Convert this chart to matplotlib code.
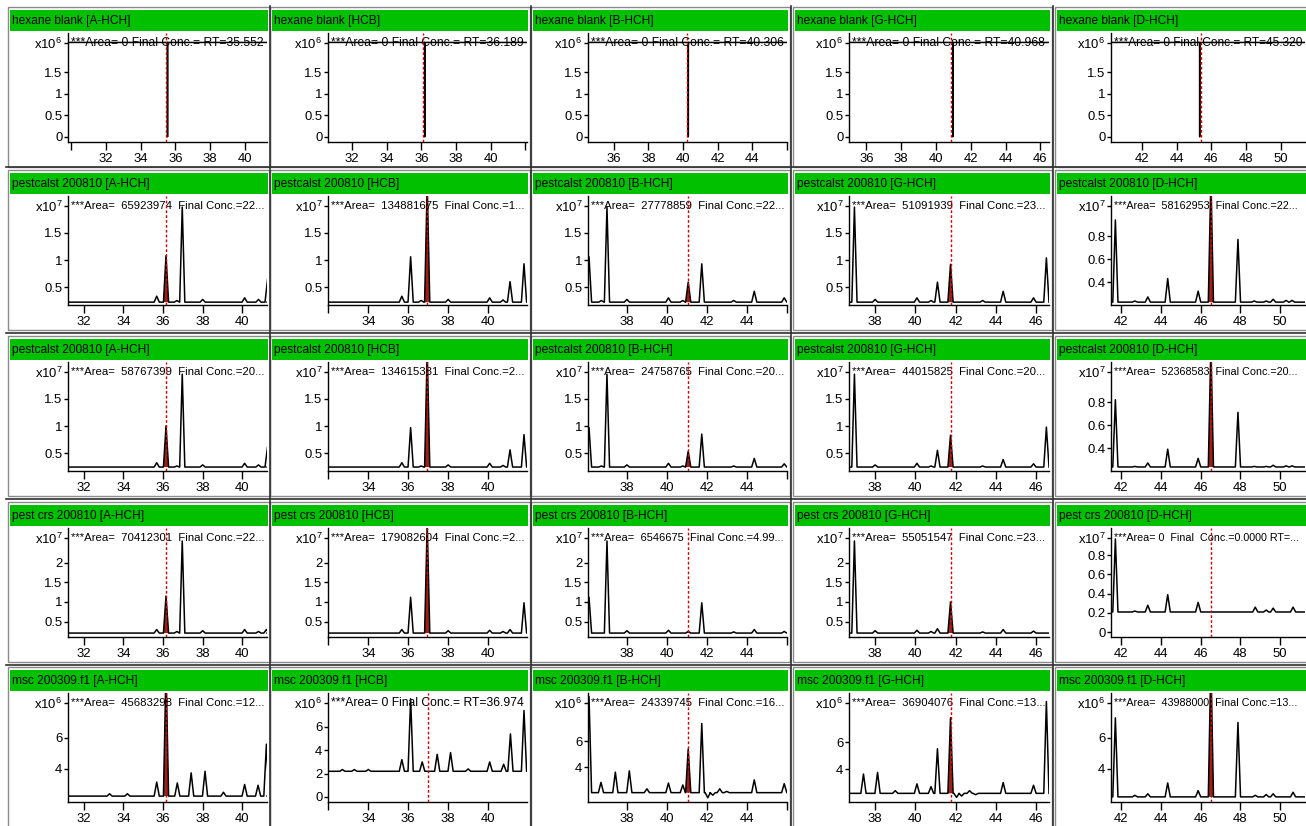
import matplotlib
matplotlib.use('Agg')
import matplotlib.pyplot as plt
from matplotlib import font_manager as fm
from matplotlib.patches import Rectangle
from matplotlib.lines import Line2D

W, H = 1306, 826

# ---------------- data ----------------
compounds = ['A-HCH', 'HCB', 'B-HCH', 'G-HCH', 'D-HCH']
samples = ['hexane blank', 'pestcalst 200810', 'pestcalst 200810',
           'pest crs 200810', 'msc 200309.f1']
exponents = [6, 7, 7, 7, 6]

info_texts = [
    ["***Area= 0 Final Conc.= RT=35.552", "***Area= 0 Final Conc.= RT=36.189",
     "***Area= 0 Final Conc.= RT=40.306", "***Area= 0 Final Conc.= RT=40.968",
     "***Area= 0 Final Conc.= RT=45.320"],
    ["***Area=  65923974  Final Conc.=22...", "***Area=  134881675  Final Conc.=1...",
     "***Area=  27778859  Final Conc.=22...", "***Area=  51091939  Final Conc.=23...",
     "***Area=  58162953  Final Conc.=22..."],
    ["***Area=  58767399  Final Conc.=20...", "***Area=  134615331  Final Conc.=2...",
     "***Area=  24758765  Final Conc.=20...", "***Area=  44015825  Final Conc.=20...",
     "***Area=  52368583  Final Conc.=20..."],
    ["***Area=  70412301  Final Conc.=22...", "***Area=  179082604  Final Conc.=2...",
     "***Area=  6546675  Final Conc.=4.99...", "***Area=  55051547  Final Conc.=23...",
     "***Area= 0  Final  Conc.=0.0000 RT=..."],
    ["***Area=  45683298  Final Conc.=12...", "***Area= 0 Final Conc.= RT=36.974",
     "***Area=  24339745  Final Conc.=16...", "***Area=  36904076  Final Conc.=13...",
     "***Area=  43988000  Final Conc.=13..."],
]

# retention-time windows (min)
xlims_blank = [(29.8, 41.3), (30.6, 42.1), (34.5, 46.02), (35.0, 46.5), (40.2, 51.4)]
xlims_run = [(31.2, 41.25), (31.98, 41.95), (36.05, 46.02), (36.7, 46.65), (41.5, 51.25)]

# intensity windows (in units of 10^exponent)
ylims = [
    [(-0.12, 2.42)] * 5,
    [(0.167, 2.185)] * 4 + [(0.2, 1.148)],
    [(0.167, 2.185)] * 4 + [(0.2, 1.148)],
    [(0.11, 2.88)] * 4 + [(-0.05, 1.083)],
    [(1.87, 8.9), (-0.43, 8.9), (1.27, 9.78), (1.56, 9.63), (1.87, 8.9)],
]
yticks = [
    [[0, 0.5, 1, 1.5]] * 5,
    [[0.5, 1, 1.5]] * 4 + [[0.4, 0.6, 0.8]],
    [[0.5, 1, 1.5]] * 4 + [[0.4, 0.6, 0.8]],
    [[0.5, 1, 1.5, 2]] * 4 + [[0, 0.2, 0.4, 0.6, 0.8]],
    [[4, 6], [0, 2, 4, 6], [4, 6], [4, 6], [4, 6]],
]

# expected RT (red dashed marker)
expected_rt = [
    [35.47, 36.11, 40.23, 40.89, 45.40],
    [36.15, 36.95, 41.07, 41.75, 46.52],
    [36.15, 36.95, 41.07, 41.75, 46.52],
    [36.15, 36.95, 41.07, 41.75, 46.52],
    [36.15, 36.97, 41.07, 41.75, 46.52],
]
# integrated peak RT (None = nothing integrated)
integrated_rt = [
    [None] * 5,
    [36.15, 36.95, 41.07, 41.75, 46.52],
    [36.15, 36.95, 41.07, 41.75, 46.52],
    [36.15, 36.95, 41.07, 41.75, None],
    [36.15, None, 41.07, 41.75, 46.52],
]

baselines = [
    [2.2, 2.2, 2.2, 2.2, 2.2],
    [0.22, 0.22, 0.22, 0.22, 0.225],
    [0.24, 0.24, 0.24, 0.24, 0.235],
    [0.21, 0.21, 0.21, 0.21, 0.21],
    [2.25, 2.2, 2.0, 2.2, 2.2],
]

# peaks: (retention time, apex intensity)
peaks = [
    [[(35.552, 0.0)], [(36.189, 0.0)], [(40.306, 0.0)], [(40.968, 0.0)], [(45.320, 0.0)]],
    [
        [(35.68, 0.33), (36.15, 1.08), (36.70, 0.25), (36.97, 1.98), (38.0, 0.27),
         (40.12, 0.30), (40.82, 0.27), (41.28, 0.65)],
        [(35.68, 0.33), (36.12, 1.06), (36.65, 0.25), (36.95, 2.4), (38.0, 0.27),
         (40.08, 0.30), (40.75, 0.26), (41.10, 0.60), (41.80, 0.93)],
        [(36.10, 1.06), (36.72, 0.25), (37.0, 1.98), (38.0, 0.27), (40.08, 0.30),
         (40.80, 0.25), (41.07, 0.59), (41.75, 0.93), (43.35, 0.25), (44.38, 0.42),
         (45.88, 0.30)],
        [(36.97, 1.98), (38.0, 0.27), (40.08, 0.30), (40.78, 0.25), (41.10, 0.59),
         (41.75, 0.92), (43.35, 0.25), (44.37, 0.42), (45.88, 0.30), (46.52, 1.04)],
        [(41.72, 0.94), (42.70, 0.235), (43.35, 0.27), (44.35, 0.43), (45.88, 0.32),
         (46.52, 1.3), (47.88, 0.77), (48.70, 0.235), (49.30, 0.235), (49.65, 0.25),
         (50.30, 0.24), (50.60, 0.24)],
    ],
    [
        [(35.68, 0.32), (36.15, 1.0), (36.70, 0.26), (36.97, 1.96), (38.0, 0.28),
         (40.12, 0.31), (40.82, 0.28), (41.28, 0.62)],
        [(35.68, 0.32), (36.12, 0.97), (36.65, 0.26), (36.95, 2.4), (38.0, 0.28),
         (40.08, 0.31), (40.75, 0.27), (41.10, 0.56), (41.80, 0.84)],
        [(36.10, 0.97), (36.72, 0.26), (37.0, 1.96), (38.0, 0.28), (40.08, 0.31),
         (40.80, 0.26), (41.07, 0.53), (41.75, 0.85), (43.35, 0.26), (44.38, 0.40),
         (45.88, 0.30)],
        [(36.97, 1.96), (38.0, 0.28), (40.08, 0.31), (40.78, 0.26), (41.10, 0.55),
         (41.75, 0.83), (43.35, 0.26), (44.37, 0.38), (45.88, 0.30), (46.52, 0.98)],
        [(41.72, 0.82), (42.70, 0.24), (43.35, 0.27), (44.35, 0.39), (45.88, 0.31),
         (46.52, 1.3), (47.88, 0.71), (48.70, 0.24), (49.30, 0.24), (49.65, 0.25),
         (50.30, 0.245), (50.60, 0.245)],
    ],
    [
        [(35.68, 0.30), (36.15, 1.15), (36.70, 0.25), (36.97, 2.55), (38.0, 0.27),
         (40.12, 0.30), (40.82, 0.25), (41.22, 0.30)],
        [(35.68, 0.30), (36.12, 1.12), (36.95, 3.0), (38.0, 0.27), (40.08, 0.28),
         (40.75, 0.25), (41.10, 0.30), (41.80, 0.98)],
        [(36.10, 1.12), (37.0, 2.55), (38.0, 0.27), (40.08, 0.28), (41.07, 0.25),
         (41.75, 0.98), (43.35, 0.24), (44.38, 0.30), (45.88, 0.25)],
        [(36.97, 2.55), (38.0, 0.27), (40.08, 0.28), (40.78, 0.25), (41.10, 0.32),
         (41.75, 1.0), (43.35, 0.24), (44.37, 0.30), (45.88, 0.26)],
        [(41.72, 0.97), (42.70, 0.22), (43.35, 0.28), (44.35, 0.39), (45.88, 0.31),
         (48.75, 0.26), (49.30, 0.23), (49.65, 0.25), (50.65, 0.26)],
    ],
    [
        [(33.30, 2.4), (34.20, 2.4), (35.68, 3.15), (36.15, 10.5), (36.72, 3.1),
         (37.42, 3.75), (38.12, 3.85), (39.05, 2.5), (40.12, 3.0), (40.80, 2.95),
         (41.22, 5.6)],
        [(32.70, 2.35), (33.30, 2.35), (34.0, 2.35), (35.68, 3.2), (36.12, 8.4),
         (36.70, 3.0), (37.45, 3.65), (38.12, 3.8), (39.0, 2.4), (40.08, 3.0),
         (40.78, 2.8), (41.12, 5.4), (41.80, 7.4)],
        [(36.10, 9.5), (36.70, 2.8), (37.42, 3.6), (38.12, 3.7), (39.0, 2.3),
         (40.08, 2.75), (40.80, 2.6), (41.07, 5.4), (41.75, 7.4), (42.05, 1.6),
         (42.30, 1.8), (42.65, 2.3), (43.0, 2.1), (44.38, 3.0), (45.88, 2.7)],
        [(37.42, 3.63), (38.12, 3.75), (39.0, 2.4), (40.08, 2.9), (40.78, 2.7),
         (41.10, 5.5), (41.75, 7.8), (42.05, 1.9), (42.30, 2.0), (42.70, 2.4),
         (43.0, 2.1), (44.37, 3.0), (45.88, 2.8), (46.52, 9.0)],
        [(41.72, 7.3), (42.70, 2.3), (43.35, 2.4), (44.35, 3.1), (45.88, 2.6),
         (46.52, 11.0), (47.88, 7.0), (48.75, 2.3), (49.30, 2.35), (49.65, 2.4),
         (50.65, 2.5)],
    ],
]

# ---------------- layout / style ----------------
names = {f.name for f in fm.fontManager.ttflist}
if 'Liberation Sans Narrow' in names:
    FONT, K = 'Liberation Sans Narrow', 1.0
else:
    FONT, K = 'Liberation Sans', 0.86
plt.rcParams['font.family'] = [FONT, 'DejaVu Sans']
plt.rcParams['mathtext.fontset'] = 'custom'
plt.rcParams['mathtext.rm'] = FONT

GREEN = '#00c000'
header_left = [10, 272, 533, 795, 1057]
header_right = [268, 528, 788, 1050, 1306]
spine_x = [68, 328, 588, 849, 1111]
header_top = [10, 173, 339, 505, 670]

fig = plt.figure(figsize=(W / 100, H / 100), dpi=100)
fig.patch.set_facecolor('white')
renderer = fig.canvas.get_renderer()


def fx(px):
    return px / W


def fy(py):
    return 1 - py / H


def build_trace(xl, base, pk, w):
    xs, ys = [xl[0]], [base]
    for rt, h in sorted(pk):
        xs += [rt - w, rt, rt + w]
        ys += [base, h, base]
    xs.append(xl[1])
    ys.append(base)
    return xs, ys


for r in range(5):
    for c in range(5):
        ht = header_top[r]
        hl, hr = header_left[c], header_right[c]
        # panel frame
        fig.add_artist(Rectangle((fx(hl - 2), fy(ht + 157)), (hr - hl + 4) / W, 160 / H,
                                 transform=fig.transFigure, fill=False,
                                 edgecolor='#8a8a8a', lw=1.0, zorder=0))
        # header bar
        fig.add_artist(Rectangle((fx(hl), fy(ht + 21)), (hr - hl) / W, 21 / H,
                                 transform=fig.transFigure, facecolor=GREEN,
                                 edgecolor='none', zorder=1))
        fig.text(fx(hl + 2), fy(ht + 11), f"{samples[r]} [{compounds[c]}]",
                 fontsize=10 * K, va='center', ha='left', color='black')

        x0, x1 = spine_x[c], hr - 1
        y0, y1 = ht + 23, ht + 132
        ax = fig.add_axes([fx(x0), fy(y1), (x1 - x0) / W, (y1 - y0) / H])
        ax.set_facecolor('none')
        xl = xlims_blank[c] if r == 0 else xlims_run[c]
        yl = ylims[r][c]
        ax.set_xlim(*xl)
        ax.set_ylim(*yl)
        for s in ('top', 'right'):
            ax.spines[s].set_visible(False)
        for s in ('left', 'bottom'):
            ax.spines[s].set_linewidth(1.0)
            ax.spines[s].set_color('black')

        # x ticks (labels suppressed next to the window edges)
        first = int(xl[0] // 2 * 2)
        xt = [v for v in range(first, int(xl[1]) + 2, 2) if xl[0] <= v <= xl[1]]
        ax.set_xticks(xt)
        ax.set_xticklabels([str(v) if (v - xl[0] > 0.35 and xl[1] - v > 0.35) else ''
                            for v in xt], fontsize=11 * K)
        ax.tick_params(axis='x', direction='out', length=6, width=1, pad=2)

        # y ticks + multiplier tick at top
        ytop = yl[1] - 10 / 109 * (yl[1] - yl[0])
        yt = yticks[r][c]
        labels = [('%g' % v) for v in yt]
        ax.set_yticks(yt + [ytop])
        ax.set_yticklabels(labels + [f"x10$^{{{exponents[r]}}}$"], fontsize=11 * K)
        ax.tick_params(axis='y', direction='out', length=3, width=1, pad=1)

        # info text (under the trace), shrunk to fit the panel
        fs = 10.2 * K
        t = ax.text(3 / (x1 - x0), (y1 - (ht + 33)) / 109, info_texts[r][c],
                    transform=ax.transAxes, fontsize=fs, va='center', ha='left',
                    zorder=1, clip_on=False)
        while t.get_window_extent(renderer).x1 > hr - 3 and fs > 6:
            fs -= 0.2
            t.set_fontsize(fs)

        w = 0.005 if r == 0 else 0.13
        xs, ys = build_trace(xl, baselines[r][c], peaks[r][c], w)
        # integrated peak fill
        irt = integrated_rt[r][c]
        if irt is not None:
            pr, ph = min(peaks[r][c], key=lambda p: abs(p[0] - irt))
            base = baselines[r][c]
            ax.fill([pr - w, pr, pr + w], [base, ph, base], color='#8a2a22',
                    lw=0, zorder=2)
        ax.plot(xs, ys, color='black', lw=1.1, zorder=3, clip_on=True)
        # expected RT marker
        ax.axvline(expected_rt[r][c], color='#e00000', lw=1.0, ls=(0, (2, 1.5)),
                   zorder=4)

# separators between panels
for xv in [269.5, 530.5, 791.5, 1052.5]:
    fig.add_artist(Line2D([fx(xv), fx(xv)], [fy(6), fy(826)], color='#303030',
                          lw=1.2, transform=fig.transFigure))
for yv in [167, 333, 499, 665]:
    fig.add_artist(Line2D([fx(6), 1], [fy(yv), fy(yv)], color='#303030',
                          lw=1.2, transform=fig.transFigure))

fig.savefig('out.png', dpi=100, facecolor='white')
